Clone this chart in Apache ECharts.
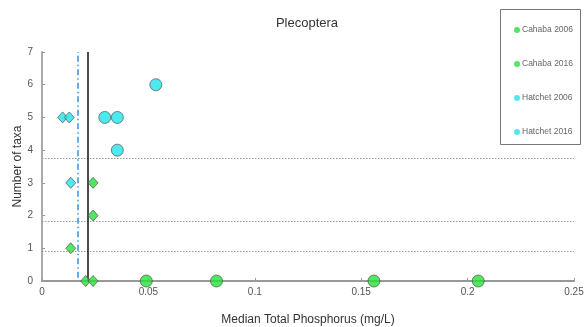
<!DOCTYPE html>
<html>
<head>
<meta charset="utf-8">
<script src="https://cdn.jsdelivr.net/npm/echarts@6/dist/echarts.min.js"></script>
<style>html,body{margin:0;padding:0;background:#fff}#c{width:586px;height:327px}</style>
</head>
<body>
<div id="c"></div>
<script>
// Data
const seriesNames = ['Cahaba 2006', 'Cahaba 2016', 'Hatchet 2006', 'Hatchet 2016'];
const cahaba2006 = [[0.049, 0], [0.082, 0], [0.156, 0], [0.205, 0]];
const cahaba2016 = [[0.0205, 0], [0.024, 0], [0.0135, 1], [0.024, 2], [0.024, 3]];
const hatchet2006 = [[0.0535, 6], [0.0295, 5], [0.0354, 5], [0.0354, 4]];
const hatchet2016 = [[0.0097, 5], [0.0128, 5], [0.0135, 3]];
const xTicks = [0, 0.05, 0.1, 0.15, 0.2, 0.25];
const yTicks = [0, 1, 2, 3, 4, 5, 6, 7];
const thresholdSolidX = 0.0213;
const thresholdDashX = 0.0168;
const horizontalLines = [3.75, 1.83, 0.9];

const green = '#27e03a';
const cyan = '#22e4ea';
const chart = echarts.init(document.getElementById('c'));
const font = 'Liberation Sans, Arial, sans-serif';

chart.setOption({
  animation: false,
  title: {
    text: 'Plecoptera', left: 302, top: 12, textAlign: 'center',
    textStyle: { fontFamily: font, fontSize: 13, fontWeight: 'normal', color: '#333' }
  },
  grid: { left: 42, right: 12, top: 52, bottom: 46, containLabel: false, outerBoundsMode: 'none' },
  legend: {
    orient: 'vertical', left: 509, top: 20, itemGap: 24,
    itemWidth: 6, itemHeight: 6, icon: 'circle',
    itemStyle: { borderWidth: 0 },
    data: seriesNames,
    textStyle: { fontFamily: font, fontSize: 8.5, color: '#666', lineHeight: 10, padding: [0, 0, 0, -3] }
  },
  graphic: [{
    type: 'rect', shape: { x: 500.5, y: 9.5, width: 80, height: 135 },
    style: { fill: 'none', stroke: '#777', lineWidth: 1 }
  }],
  xAxis: {
    type: 'value', min: 0, max: 0.25, interval: 0.05,
    name: 'Median Total Phosphorus (mg/L)', nameLocation: 'middle', nameGap: 33, nameMoveOverlap: false,
    nameTextStyle: { fontFamily: font, fontSize: 12, color: '#333' },
    axisLine: { lineStyle: { color: '#999', width: 2 } },
    axisTick: { show: true, length: 3, inside: true, lineStyle: { color: '#999' } },
    axisLabel: {
      fontFamily: font, fontSize: 10, color: '#555', margin: 6,
      formatter: v => { const s = xTicks.find(t => Math.abs(t - v) < 1e-9); return String(s !== undefined ? s : v); }
    },
    splitLine: { show: false }
  },
  yAxis: {
    type: 'value', min: 0, max: 7, interval: 1,
    name: 'Number of taxa', nameLocation: 'middle', nameGap: 18, nameMoveOverlap: false,
    nameTextStyle: { fontFamily: font, fontSize: 12, color: '#333' },
    axisLine: { show: true, lineStyle: { color: '#aaa', width: 2 } },
    axisTick: { show: true, length: 3, inside: true, lineStyle: { color: '#999' } },
    axisLabel: { fontFamily: font, fontSize: 10, color: '#555', margin: 9,
      formatter: v => String(yTicks.includes(v) ? v : v) },
    splitLine: { show: false }
  },
  series: [
    {
      name: seriesNames[0], type: 'scatter', data: cahaba2006, symbol: 'circle', symbolSize: 12, z: 5,
      itemStyle: { color: green, borderColor: '#444', borderWidth: 0.8 },
      markLine: {
        silent: true, symbol: 'none', label: { show: false },
        lineStyle: { type: [1.5, 1.5], color: '#999', width: 1 },
        data: horizontalLines.map(y => ({ yAxis: y }))
      }
    },
    {
      name: seriesNames[1], type: 'scatter', data: cahaba2016, symbol: 'diamond', symbolSize: [10, 11], z: 5,
      itemStyle: { color: green, borderColor: '#444', borderWidth: 0.8 },
      markLine: {
        silent: true, symbol: 'none', label: { show: false },
        data: [
          [{ coord: [thresholdSolidX, 0], lineStyle: { color: '#111', width: 1.5, type: 'solid' } }, { coord: [thresholdSolidX, 7] }]
        ]
      }
    },
    {
      name: seriesNames[2], type: 'scatter', data: hatchet2006, symbol: 'circle', symbolSize: 12, z: 5,
      itemStyle: { color: cyan, borderColor: '#444', borderWidth: 0.8 },
      markLine: {
        silent: true, symbol: 'none', label: { show: false },
        data: [
          [{ coord: [thresholdDashX, 0.1], lineStyle: { color: '#3b8fdf', width: 1.5, type: [6, 3, 1.5, 3] } }, { coord: [thresholdDashX, 7] }]
        ]
      }
    },
    {
      name: seriesNames[3], type: 'scatter', data: hatchet2016, symbol: 'diamond', symbolSize: [10, 11], z: 5,
      itemStyle: { color: cyan, borderColor: '#444', borderWidth: 0.8 }
    }
  ]
});
</script>
</body>
</html>
